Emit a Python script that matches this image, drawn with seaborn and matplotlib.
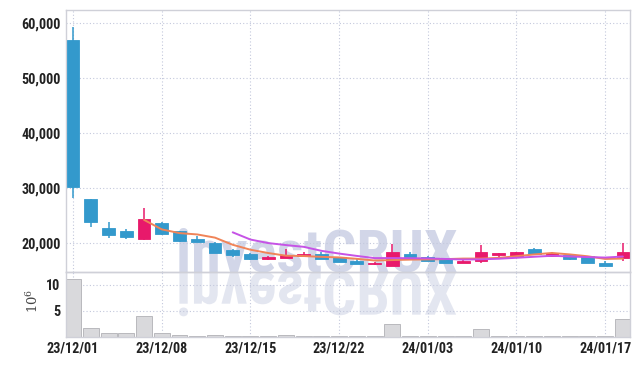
import numpy as np
import pandas as pd
import matplotlib
matplotlib.use("Agg")
import matplotlib.pyplot as plt
import seaborn as sns
from matplotlib import font_manager
from matplotlib.textpath import TextPath
from matplotlib.patches import PathPatch
from matplotlib.font_manager import FontProperties
from matplotlib.transforms import Affine2D, IdentityTransform

# ---------------- data ----------------
dates = ["23/12/01", "23/12/04", "23/12/05", "23/12/06", "23/12/07", "23/12/08",
         "23/12/11", "23/12/12", "23/12/13", "23/12/14", "23/12/15", "23/12/18",
         "23/12/19", "23/12/20", "23/12/21", "23/12/22", "23/12/26", "23/12/27",
         "23/12/28", "24/01/02", "24/01/03", "24/01/04", "24/01/05", "24/01/08",
         "24/01/09", "24/01/10", "24/01/11", "24/01/12", "24/01/15", "24/01/16",
         "24/01/17", "24/01/18"]
opens = [57000, 28050, 22850, 22300, 20800, 23750, 22250, 20850, 20100, 18800,
         18100, 17200, 17400, 17600, 18050, 17450, 16850, 16200, 15950, 18050,
         17450, 17090, 16470, 16850, 17870, 17700, 19050, 17750, 17870, 17700,
         16450, 17270]
closes = [30300, 23900, 21500, 21200, 24400, 21650, 20500, 20300, 18300, 17900,
          17150, 17500, 17870, 18000, 17150, 16650, 16200, 16350, 18400, 17550,
          16850, 16470, 16840, 18400, 18180, 18400, 18050, 18180, 17090, 16500,
          15950, 18360]
highs = [59400, 28100, 23900, 22550, 26400, 23800, 22300, 21300, 20150, 18900,
         18150, 17750, 18950, 18400, 18350, 17500, 17100, 16650, 19950, 18350,
         17700, 17150, 17270, 19700, 18250, 18500, 19100, 18480, 17900, 17750,
         16800, 20000]
lows = [28200, 22900, 20900, 20730, 20600, 21500, 20240, 20300, 18200, 17550,
        16960, 16960, 17380, 17550, 17100, 16600, 16150, 16050, 15900, 17500,
        16800, 16400, 16450, 16450, 17450, 17650, 18000, 17700, 17050, 16450,
        15900, 16850]
volumes_m = [11.1, 1.8, 0.75, 0.75, 4.05, 0.8, 0.45, 0.25, 0.45, 0.25, 0.25, 0.2,
             0.45, 0.25, 0.15, 0.15, 0.15, 0.15, 2.5, 0.25, 0.25, 0.15, 0.15, 1.55,
             0.25, 0.25, 0.25, 0.1, 0.1, 0.1, 0.1, 3.4]
price_ticks = [20000, 30000, 40000, 50000, 60000]
price_tick_labels = ["20,000", "30,000", "40,000", "50,000", "60,000"]
volume_ticks = [5, 10]
volume_tick_labels = ["5", "10"]
date_tick_every = 5
ma_windows = [5, 10]
watermark = "investCRUX"

# ---------------- style ----------------
sns.set_theme(style="white")
names = {f.name for f in font_manager.fontManager.ttflist}
if "Liberation Sans Narrow" in names:
    tick_family, tick_size, wm_px = "Liberation Sans Narrow", 10.8, 60
elif "Roboto Condensed" in names:
    tick_family, tick_size, wm_px = "Roboto Condensed", 10.2, 60
else:
    tick_family, tick_size, wm_px = "Liberation Sans", 9.8, 50
plt.rcParams["font.family"] = [tick_family, "DejaVu Sans"]
plt.rcParams["mathtext.fontset"] = "dejavuserif"

UP = "#e8196b"
DOWN = "#3399cc"
ORANGE = "#f08458"
PURPLE = "#c653e6"
GRID = "#c3c8dc"
SPINE = "#cfd0d8"

df = pd.DataFrame({"date": dates, "open": opens, "close": closes,
                   "high": highs, "low": lows, "vol": volumes_m})
df["i"] = np.arange(len(df))
for w in ma_windows:
    df[f"ma{w}"] = df["close"].rolling(w).mean()

W, H = 639, 366
fig = plt.figure(figsize=(W / 100, H / 100), dpi=100)
fig.patch.set_facecolor("white")
L, R = 66 / W, 630 / W
ax1 = fig.add_axes([L, (H - 272) / H, R - L, (272 - 10) / H])
ax2 = fig.add_axes([L, (H - 337) / H, R - L, (337 - 272) / H], sharex=ax1)
for ax in (ax1, ax2):
    ax.set_facecolor("none")
    for s in ax.spines.values():
        s.set_color(SPINE)
        s.set_linewidth(1.0)
    ax.grid(True, color=GRID, linestyle=(0, (1, 2)), linewidth=0.8)
    ax.tick_params(length=0, colors="#222222")

# watermark (behind everything)
fig.text(176 / W, (H - 272) / H, watermark, fontsize=wm_px * 0.72,
         fontweight="bold", family=[tick_family, "DejaVu Sans"],
         color="#cdd2e6", alpha=0.9, ha="left", va="baseline", zorder=-5)
tp = TextPath((0, 0), watermark, size=wm_px,
              prop=FontProperties(family=tick_family, weight="bold"))
mirror = PathPatch(tp, transform=Affine2D().scale(1, -1).translate(176, H - 272) + IdentityTransform(),
                   facecolor="#d8dcea", edgecolor="none", alpha=0.7, zorder=-5)
fig.add_artist(mirror)

# candles
up = df["close"] >= df["open"]
colors = np.where(up, UP, DOWN)
body_lo = np.minimum(df["open"], df["close"])
body_h = np.abs(df["close"] - df["open"])
ax1.vlines(df["i"], df["low"], df["high"], colors=colors, linewidth=1.1, zorder=2)
ax1.bar(df["i"], body_h, bottom=body_lo, width=0.72, color=colors,
        edgecolor=colors, linewidth=0.6, zorder=3)

# moving averages
sns.lineplot(data=df, x="i", y="ma5", ax=ax1, color=ORANGE, linewidth=1.4, zorder=4)
sns.lineplot(data=df, x="i", y="ma10", ax=ax1, color=PURPLE, linewidth=1.4, zorder=4)

ax1.set_ylim(14780, 62420)
ax1.set_yticks(price_ticks)
ax1.set_yticklabels(price_tick_labels)
ax1.set_xlim(-0.4, 31.4)
ax1.set_xlabel("")
ax1.set_ylabel("")
ax1.tick_params(axis="x", labelbottom=False)
for t in ax1.get_yticklabels():
    t.set_fontweight("bold")
    t.set_fontsize(tick_size)
ax1.tick_params(axis="y", pad=4)

# volume
sns.barplot(data=df, x="i", y="vol", ax=ax2, native_scale=True, width=0.9,
            color="#d9d9dc", saturation=1, edgecolor="#b9b9bd", linewidth=0.7,
            zorder=2)
ax2.set_ylim(0, 12.5)
ax2.set_yticks(volume_ticks)
ax2.set_yticklabels(volume_tick_labels)
ax2.set_xlim(-0.4, 31.4)
tick_pos = list(range(0, len(df), date_tick_every))
ax2.set_xticks(tick_pos)
ax2.set_xticklabels([dates[i] for i in tick_pos])
ax2.set_xlabel("")
ax2.set_ylabel("")
for t in ax2.get_xticklabels() + ax2.get_yticklabels():
    t.set_fontweight("bold")
    t.set_fontsize(tick_size)
ax2.tick_params(axis="x", pad=3)
ax2.tick_params(axis="y", pad=4)
fig.text(33 / W, (H - 301) / H, r"$10^6$", rotation=90, ha="center", va="center",
         fontsize=9.5, color="#444444")

fig.savefig("out.png", dpi=100, facecolor="white")
